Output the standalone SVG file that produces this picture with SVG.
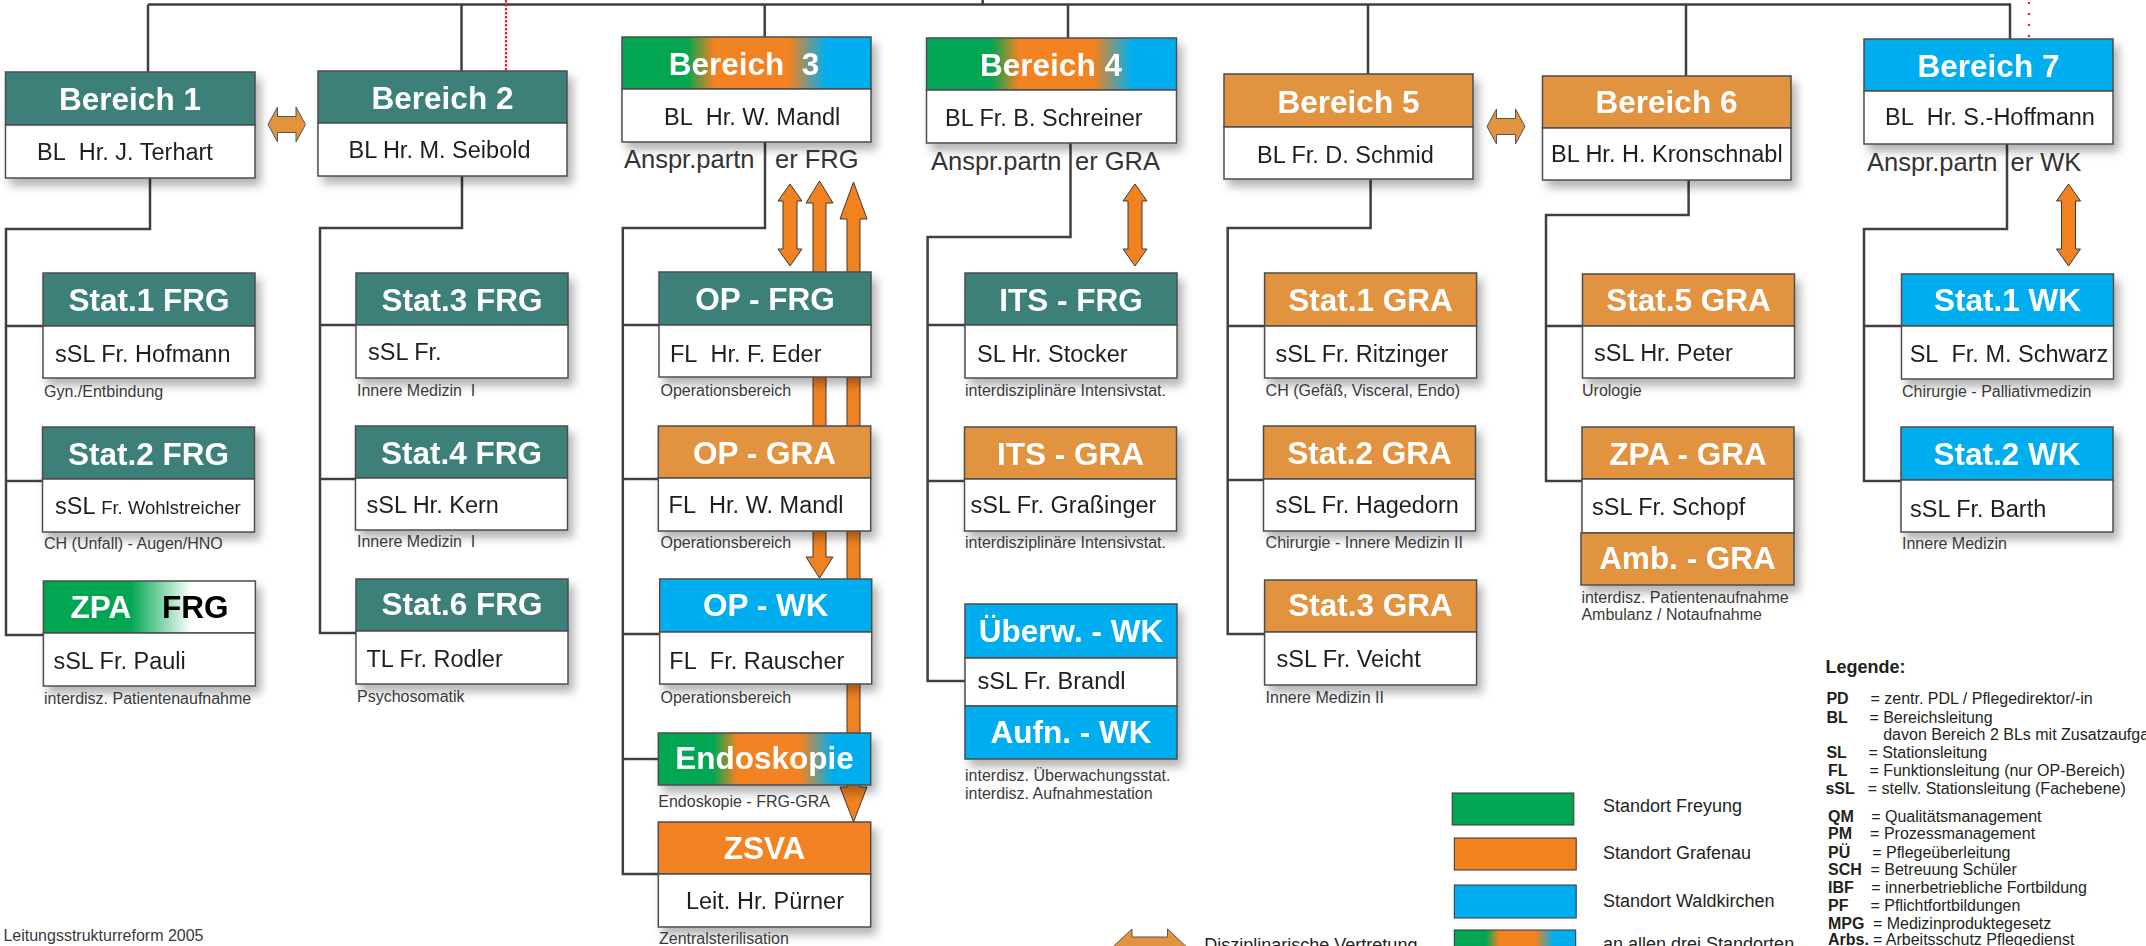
<svg xmlns="http://www.w3.org/2000/svg" width="2146" height="946" viewBox="0 0 2146 946">
<style>
text{font-family:"Liberation Sans",Arial,sans-serif;fill:#231f20;white-space:pre}
.hd{stroke:#4d4d4d;stroke-width:1.5}
.bd{fill:#fff;stroke:#4d4d4d;stroke-width:1.5}
.teal{fill:#3c7f79}
.gra{fill:#e2933f}
.wk{fill:#00aeef}
.org{fill:#f28220}
.ht{font-weight:bold;font-size:31.5px;fill:#fff;text-anchor:middle}
.bt{font-size:23.5px}
.sub{font-size:16px;fill:#3a3a3a}
.ap{font-size:25.5px;fill:#333}
.con{fill:none;stroke:#404040;stroke-width:2.5}
.arr{fill:#f28220;stroke:#3a3a3a;stroke-width:1}
.harr{fill:#e2933f;stroke:#555;stroke-width:1}
.lg{font-size:18px}
.lk{font-size:16px;font-weight:bold}
.lv{font-size:16px}
</style>
<defs>
<filter id="sh" x="-10%" y="-10%" width="130%" height="150%"><feDropShadow dx="5" dy="7" stdDeviation="5" flood-color="#000" flood-opacity="0.3"/></filter>
<linearGradient id="g3" x1="0" x2="1" y1="0" y2="0"><stop offset="0" stop-color="#00a651"/><stop offset="0.26" stop-color="#00a651"/><stop offset="0.37" stop-color="#f28220"/><stop offset="0.67" stop-color="#f28220"/><stop offset="0.82" stop-color="#00aeef"/><stop offset="1" stop-color="#00aeef"/></linearGradient>
<linearGradient id="gz" x1="0" x2="1" y1="0" y2="0"><stop offset="0" stop-color="#00a651"/><stop offset="0.41" stop-color="#00a651"/><stop offset="0.70" stop-color="#ffffff"/><stop offset="1" stop-color="#ffffff"/></linearGradient>
</defs>
<rect width="2146" height="946" fill="#fff"/>

<g id="connectors">
<path class="con" d="M148 4.5 H2010 V39 M148 4.5 V72 M461.5 4.5 V71 M764.7 4.5 V37 M1068 4.5 V38 M1368 4.5 V74 M1686 4.5 V76 M982.7 0 V4.5"/>
<path class="con" d="M150 178 V229 H6 V635 H43 M6 326 H43 M6 481 H43"/>
<path class="con" d="M462 176 V228 H320 V633 H356 M320 325 H356 M320 479 H356"/>
<path class="con" d="M765 142 V228 H622.8 V874 H658 M622.8 325 H659 M622.8 479 H658 M622.8 634 H660 M622.8 759 H658"/>
<path class="con" d="M1070.5 143 V237 H927.6 V681 H965 M927.6 325 H965 M927.6 481 H965"/>
<path class="con" d="M1370.6 179 V228 H1227.7 V634 H1264.6 M1227.7 326 H1264.6 M1227.7 480 H1263.5"/>
<path class="con" d="M1688.6 180 V215 H1546 V481 H1582 M1546 326 H1582.5"/>
<path class="con" d="M2007 144 V229 H1864 V481 H1901 M1864 326 H1901.5"/>
<path fill="none" stroke="#ed1c24" stroke-width="2.2" stroke-dasharray="2.5 1.5" d="M506 0 V71"/>
<path fill="none" stroke="#ed1c24" stroke-width="2.2" stroke-dasharray="2 9" d="M2029 2 V39"/>
<polygon class="arr" points="790,184 802,201 797,201 797,249 802,249 790,266 778,249 783,249 783,201 778,201"/>
<polygon class="arr" points="1135,184 1147,201 1142,201 1142,249 1147,249 1135,266 1123,249 1128,249 1128,201 1123,201"/>
<polygon class="arr" points="2068.5,184 2080.5,201 2075.5,201 2075.5,249 2080.5,249 2068.5,266 2056.5,249 2061.5,249 2061.5,201 2056.5,201"/>
<polygon class="arr" points="819.5,181 833,203 826,203 826,557 833,557 819.5,578 806,557 813,557 813,203 806,203"/>
<polygon class="arr" points="853.5,182 867,219 860,219 860,787 867,787 853.5,822 840,787 847,787 847,219 840,219"/>
<polygon class="harr" points="268,124.5 277.5,107 277.5,116.5 296,116.5 296,107 305.5,124.5 296,142 296,132.5 277.5,132.5 277.5,142"/>
<polygon class="harr" points="1487,126.5 1496.5,109 1496.5,118.5 1515.5,118.5 1515.5,109 1525,126.5 1515.5,144 1515.5,134.5 1496.5,134.5 1496.5,144"/>
</g>

<g id="b1"><g filter="url(#sh)"><rect class="hd teal" x="5.5" y="72" width="249.5" height="53"/><rect class="bd" x="5.5" y="125" width="249.5" height="53"/><text class="ht" x="130" y="110">Bereich 1</text><text class="bt" x="37" y="160">BL&#160; Hr. J. Terhart</text></g></g>
<g id="b2"><g filter="url(#sh)"><rect class="hd teal" x="318" y="71" width="249" height="52"/><rect class="bd" x="318" y="123" width="249" height="53"/><text class="ht" x="442.5" y="109">Bereich 2</text><text class="bt" x="348.5" y="158">BL Hr. M. Seibold</text></g></g>
<g id="b3"><g filter="url(#sh)"><rect class="hd" fill="url(#g3)" x="622" y="37" width="249" height="52"/><rect class="bd" x="622" y="89" width="249" height="53"/><text class="ht" x="744" y="75">Bereich&#160; 3</text><text class="bt" x="664" y="124.5">BL&#160; Hr. W. Mandl</text></g><text class="ap" x="624" y="168">Anspr.partn<tspan x="775">er FRG</tspan></text></g>
<g id="b4"><g filter="url(#sh)"><rect class="hd" fill="url(#g3)" x="926.5" y="38" width="250" height="52"/><rect class="bd" x="926.5" y="90" width="250" height="53"/><text class="ht" x="1051" y="76">Bereich 4</text><text class="bt" x="945" y="125.5">BL Fr. B. Schreiner</text></g><text class="ap" x="931" y="170">Anspr.partn<tspan x="1075">er GRA</tspan></text></g>
<g id="b5"><g filter="url(#sh)"><rect class="hd gra" x="1224" y="74" width="249" height="53"/><rect class="bd" x="1224" y="127" width="249" height="52"/><text class="ht" x="1348.5" y="112.5">Bereich 5</text><text class="bt" x="1257" y="163">BL Fr. D. Schmid</text></g></g>
<g id="b6"><g filter="url(#sh)"><rect class="hd gra" x="1542.5" y="76" width="248.5" height="52"/><rect class="bd" x="1542.5" y="128" width="248.5" height="52"/><text class="ht" x="1666.5" y="113">Bereich 6</text><text class="bt" x="1551" y="162">BL Hr. H. Kronschnabl</text></g></g>
<g id="b7"><g filter="url(#sh)"><rect class="hd wk" x="1864" y="39" width="249" height="52"/><rect class="bd" x="1864" y="91" width="249" height="53"/><text class="ht" x="1988.5" y="76.5">Bereich 7</text><text class="bt" x="1885" y="124.5">BL&#160; Hr. S.-Hoffmann</text></g><text class="ap" x="1867" y="171">Anspr.partn<tspan x="2010.5">er WK</tspan></text></g>

<g id="s1frg"><g filter="url(#sh)"><rect class="hd teal" x="43" y="273" width="212" height="53"/><rect class="bd" x="43" y="326" width="212" height="52"/><text class="ht" x="149" y="311">Stat.1 FRG</text><text class="bt" x="55" y="362">sSL Fr. Hofmann</text></g><text class="sub" x="44" y="397">Gyn./Entbindung</text></g>
<g id="s2frg"><g filter="url(#sh)"><rect class="hd teal" x="42.5" y="427" width="212" height="52"/><rect class="bd" x="42.5" y="479" width="212" height="53"/><text class="ht" x="148.5" y="465">Stat.2 FRG</text><text class="bt" x="55" y="514">sSL <tspan style="font-size:18.5px">Fr. Wohlstreicher</tspan></text></g><text class="sub" x="44" y="549">CH (Unfall) - Augen/HNO</text></g>
<g id="zpafrg"><g filter="url(#sh)"><rect class="hd" fill="url(#gz)" x="43.4" y="581" width="212" height="52"/><rect class="bd" x="43.4" y="633" width="212" height="53"/><text class="ht" x="70.6" y="618" style="text-anchor:start">ZPA</text><text class="ht" x="162" y="618" style="text-anchor:start;fill:#000">FRG</text><text class="bt" x="53.4" y="669">sSL Fr. Pauli</text></g><text class="sub" x="44" y="704">interdisz. Patientenaufnahme</text></g>

<g id="s3frg"><g filter="url(#sh)"><rect class="hd teal" x="356" y="273" width="212" height="52"/><rect class="bd" x="356" y="325" width="212" height="53"/><text class="ht" x="462" y="311">Stat.3 FRG</text><text class="bt" x="368" y="360">sSL Fr.</text></g><text class="sub" x="357" y="396">Innere Medizin&#160; I</text></g>
<g id="s4frg"><g filter="url(#sh)"><rect class="hd teal" x="355.5" y="426" width="212" height="52"/><rect class="bd" x="355.5" y="478" width="212" height="52"/><text class="ht" x="461.5" y="464">Stat.4 FRG</text><text class="bt" x="366.5" y="513">sSL Hr. Kern</text></g><text class="sub" x="357" y="547">Innere Medizin&#160; I</text></g>
<g id="s6frg"><g filter="url(#sh)"><rect class="hd teal" x="356" y="579" width="212" height="52"/><rect class="bd" x="356" y="631" width="212" height="53"/><text class="ht" x="462" y="615">Stat.6 FRG</text><text class="bt" x="366.5" y="667">TL Fr. Rodler</text></g><text class="sub" x="357" y="702">Psychosomatik</text></g>

<g id="opfrg"><g filter="url(#sh)"><rect class="hd teal" x="659" y="272" width="212" height="53"/><rect class="bd" x="659" y="325" width="212" height="52"/><text class="ht" x="765" y="310">OP - FRG</text><text class="bt" x="670" y="362">FL&#160; Hr. F. Eder</text></g><text class="sub" x="660.5" y="396">Operationsbereich</text></g>
<g id="opgra"><g filter="url(#sh)"><rect class="hd gra" x="658.3" y="426" width="212.4" height="52"/><rect class="bd" x="658.3" y="478" width="212.4" height="53"/><text class="ht" x="764.5" y="464">OP - GRA</text><text class="bt" x="668.6" y="513">FL&#160; Hr. W. Mandl</text></g><text class="sub" x="660.5" y="548">Operationsbereich</text></g>
<g id="opwk"><g filter="url(#sh)"><rect class="hd wk" x="659.7" y="579" width="212" height="53"/><rect class="bd" x="659.7" y="632" width="212" height="52"/><text class="ht" x="765.7" y="616">OP - WK</text><text class="bt" x="669.3" y="669">FL&#160; Fr. Rauscher</text></g><text class="sub" x="660.5" y="703">Operationsbereich</text></g>
<g id="endo"><g filter="url(#sh)"><rect class="hd" fill="url(#g3)" x="658.3" y="733" width="212.4" height="52"/><text class="ht" x="764.6" y="769">Endoskopie</text></g><text class="sub" x="658.3" y="807">Endoskopie - FRG-GRA</text></g>
<g id="zsva"><g filter="url(#sh)"><rect class="hd org" x="658.3" y="822" width="212.4" height="52"/><rect class="bd" x="658.3" y="874" width="212.4" height="53"/><text class="ht" x="764.5" y="859">ZSVA</text><text class="bt" x="765" y="909" style="text-anchor:middle">Leit. Hr. Pürner</text></g><text class="sub" x="659" y="944">Zentralsterilisation</text></g>

<g id="itsfrg"><g filter="url(#sh)"><rect class="hd teal" x="965" y="273" width="212" height="52"/><rect class="bd" x="965" y="325" width="212" height="53"/><text class="ht" x="1071" y="311">ITS - FRG</text><text class="bt" x="977" y="362">SL Hr. Stocker</text></g><text class="sub" x="965" y="396">interdisziplinäre Intensivstat.</text></g>
<g id="itsgra"><g filter="url(#sh)"><rect class="hd gra" x="964.5" y="427" width="212" height="52"/><rect class="bd" x="964.5" y="479" width="212" height="52"/><text class="ht" x="1070.5" y="465">ITS - GRA</text><text class="bt" x="970.5" y="513">sSL Fr. Graßinger</text></g><text class="sub" x="965" y="548">interdisziplinäre Intensivstat.</text></g>
<g id="uebwk"><g filter="url(#sh)"><rect class="hd wk" x="965" y="604" width="212" height="54"/><rect class="bd" x="965" y="658" width="212" height="48"/><text class="ht" x="1071" y="642">Überw. - WK</text><text class="bt" x="977.5" y="689">sSL Fr. Brandl</text></g></g>
<g id="aufnwk"><g filter="url(#sh)"><rect class="hd wk" x="965" y="706" width="212" height="53"/><text class="ht" x="1071" y="743">Aufn. - WK</text></g><text class="sub" x="965" y="781">interdisz. Überwachungsstat.</text><text class="sub" x="965" y="799">interdisz. Aufnahmestation</text></g>

<g id="s1gra"><g filter="url(#sh)"><rect class="hd gra" x="1264.6" y="273" width="212" height="53"/><rect class="bd" x="1264.6" y="326" width="212" height="52"/><text class="ht" x="1370.6" y="311">Stat.1 GRA</text><text class="bt" x="1275.6" y="362">sSL Fr. Ritzinger</text></g><text class="sub" x="1265.6" y="396">CH (Gefäß, Visceral, Endo)</text></g>
<g id="s2gra"><g filter="url(#sh)"><rect class="hd gra" x="1263.5" y="426" width="212" height="53"/><rect class="bd" x="1263.5" y="479" width="212" height="52"/><text class="ht" x="1369.5" y="464">Stat.2 GRA</text><text class="bt" x="1275.6" y="513">sSL Fr. Hagedorn</text></g><text class="sub" x="1265.6" y="548">Chirurgie - Innere Medizin II</text></g>
<g id="s3gra"><g filter="url(#sh)"><rect class="hd gra" x="1264.6" y="580" width="212" height="52"/><rect class="bd" x="1264.6" y="632" width="212" height="53"/><text class="ht" x="1370.6" y="616">Stat.3 GRA</text><text class="bt" x="1276.6" y="667">sSL Fr. Veicht</text></g><text class="sub" x="1265.6" y="703">Innere Medizin II</text></g>

<g id="s5gra"><g filter="url(#sh)"><rect class="hd gra" x="1582.5" y="274" width="212" height="52"/><rect class="bd" x="1582.5" y="326" width="212" height="52"/><text class="ht" x="1688.5" y="311">Stat.5 GRA</text><text class="bt" x="1594" y="361">sSL Hr. Peter</text></g><text class="sub" x="1582" y="396">Urologie</text></g>
<g id="zpagra"><g filter="url(#sh)"><rect class="hd gra" x="1582" y="427" width="212" height="52"/><rect class="bd" x="1582" y="479" width="212" height="54"/><text class="ht" x="1688" y="465">ZPA - GRA</text><text class="bt" x="1592" y="515">sSL Fr. Schopf</text></g></g>
<g id="ambgra"><g filter="url(#sh)"><rect class="hd gra" x="1581" y="533" width="213" height="52"/><text class="ht" x="1687.5" y="569">Amb. - GRA</text></g><text class="sub" x="1581.4" y="603">interdisz. Patientenaufnahme</text><text class="sub" x="1581.4" y="620">Ambulanz / Notaufnahme</text></g>

<g id="s1wk"><g filter="url(#sh)"><rect class="hd wk" x="1901.5" y="274" width="212" height="52"/><rect class="bd" x="1901.5" y="326" width="212" height="53"/><text class="ht" x="2007.5" y="311">Stat.1 WK</text><text class="bt" x="1909.7" y="362">SL&#160; Fr. M. Schwarz</text></g><text class="sub" x="1902" y="397">Chirurgie - Palliativmedizin</text></g>
<g id="s2wk"><g filter="url(#sh)"><rect class="hd wk" x="1901" y="427" width="212" height="53"/><rect class="bd" x="1901" y="480" width="212" height="52"/><text class="ht" x="2007" y="465">Stat.2 WK</text><text class="bt" x="1910" y="517">sSL Fr. Barth</text></g><text class="sub" x="1902" y="549">Innere Medizin</text></g>

<g id="legend">
<text class="sub" x="3.4" y="941">Leitungsstrukturreform 2005</text>
<rect x="1452.2" y="793" width="121.6" height="32" fill="#00a651" stroke="#333" stroke-width="1"/>
<rect x="1454.3" y="838" width="121.9" height="32" fill="#f28220" stroke="#333" stroke-width="1"/>
<rect x="1454.3" y="885" width="121.9" height="33" fill="#00aeef" stroke="#333" stroke-width="1"/>
<rect x="1454.3" y="930" width="121.4" height="33" fill="url(#g3)" stroke="#333" stroke-width="1"/>
<polygon class="harr" points="1110.6,949 1132,929 1132,937 1167.5,937 1167.5,929 1188.8,949 1167.5,969 1167.5,961 1132,961 1132,969"/>
<text class="lg" x="1204.3" y="951">Disziplinarische Vertretung</text>
<text class="lg" x="1603" y="812">Standort Freyung</text>
<text class="lg" x="1603" y="859">Standort Grafenau</text>
<text class="lg" x="1603" y="907">Standort Waldkirchen</text>
<text class="lg" x="1603" y="950">an allen drei Standorten</text>
<text class="lg" x="1825.4" y="673" style="font-weight:bold">Legende:</text>
<text class="lk" x="1826.4" y="704">PD</text><text class="lv" x="1870.5" y="704">= zentr. PDL / Pflegedirektor/-in</text>
<text class="lk" x="1826.4" y="723">BL</text><text class="lv" x="1869.4" y="723">= Bereichsleitung</text>
<text class="lv" x="1883.2" y="740">davon Bereich 2 BLs mit Zusatzaufgaben</text>
<text class="lk" x="1826.4" y="758">SL</text><text class="lv" x="1868.4" y="758">= Stationsleitung</text>
<text class="lk" x="1828" y="776">FL</text><text class="lv" x="1869.4" y="776">= Funktionsleitung (nur OP-Bereich)</text>
<text class="lk" x="1825.4" y="794">sSL</text><text class="lv" x="1867.7" y="794">= stellv. Stationsleitung (Fachebene)</text>
<text class="lk" x="1828" y="822">QM</text><text class="lv" x="1871.2" y="822">= Qualitätsmanagement</text>
<text class="lk" x="1828" y="839">PM</text><text class="lv" x="1870.1" y="839">= Prozessmanagement</text>
<text class="lk" x="1828" y="858">PÜ</text><text class="lv" x="1872.2" y="858">= Pflegeüberleitung</text>
<text class="lk" x="1828" y="875">SCH</text><text class="lv" x="1870.5" y="875">= Betreuung Schüler</text>
<text class="lk" x="1828" y="893">IBF</text><text class="lv" x="1871.2" y="893">= innerbetriebliche Fortbildung</text>
<text class="lk" x="1828" y="911">PF</text><text class="lv" x="1870.5" y="911">= Pflichtfortbildungen</text>
<text class="lk" x="1828" y="929">MPG</text><text class="lv" x="1872.9" y="929">= Medizinproduktegesetz</text>
<text class="lk" x="1828" y="945">Arbs.</text><text class="lv" x="1872.9" y="945">= Arbeitsschutz Pflegedienst</text>
</g>
</svg>
